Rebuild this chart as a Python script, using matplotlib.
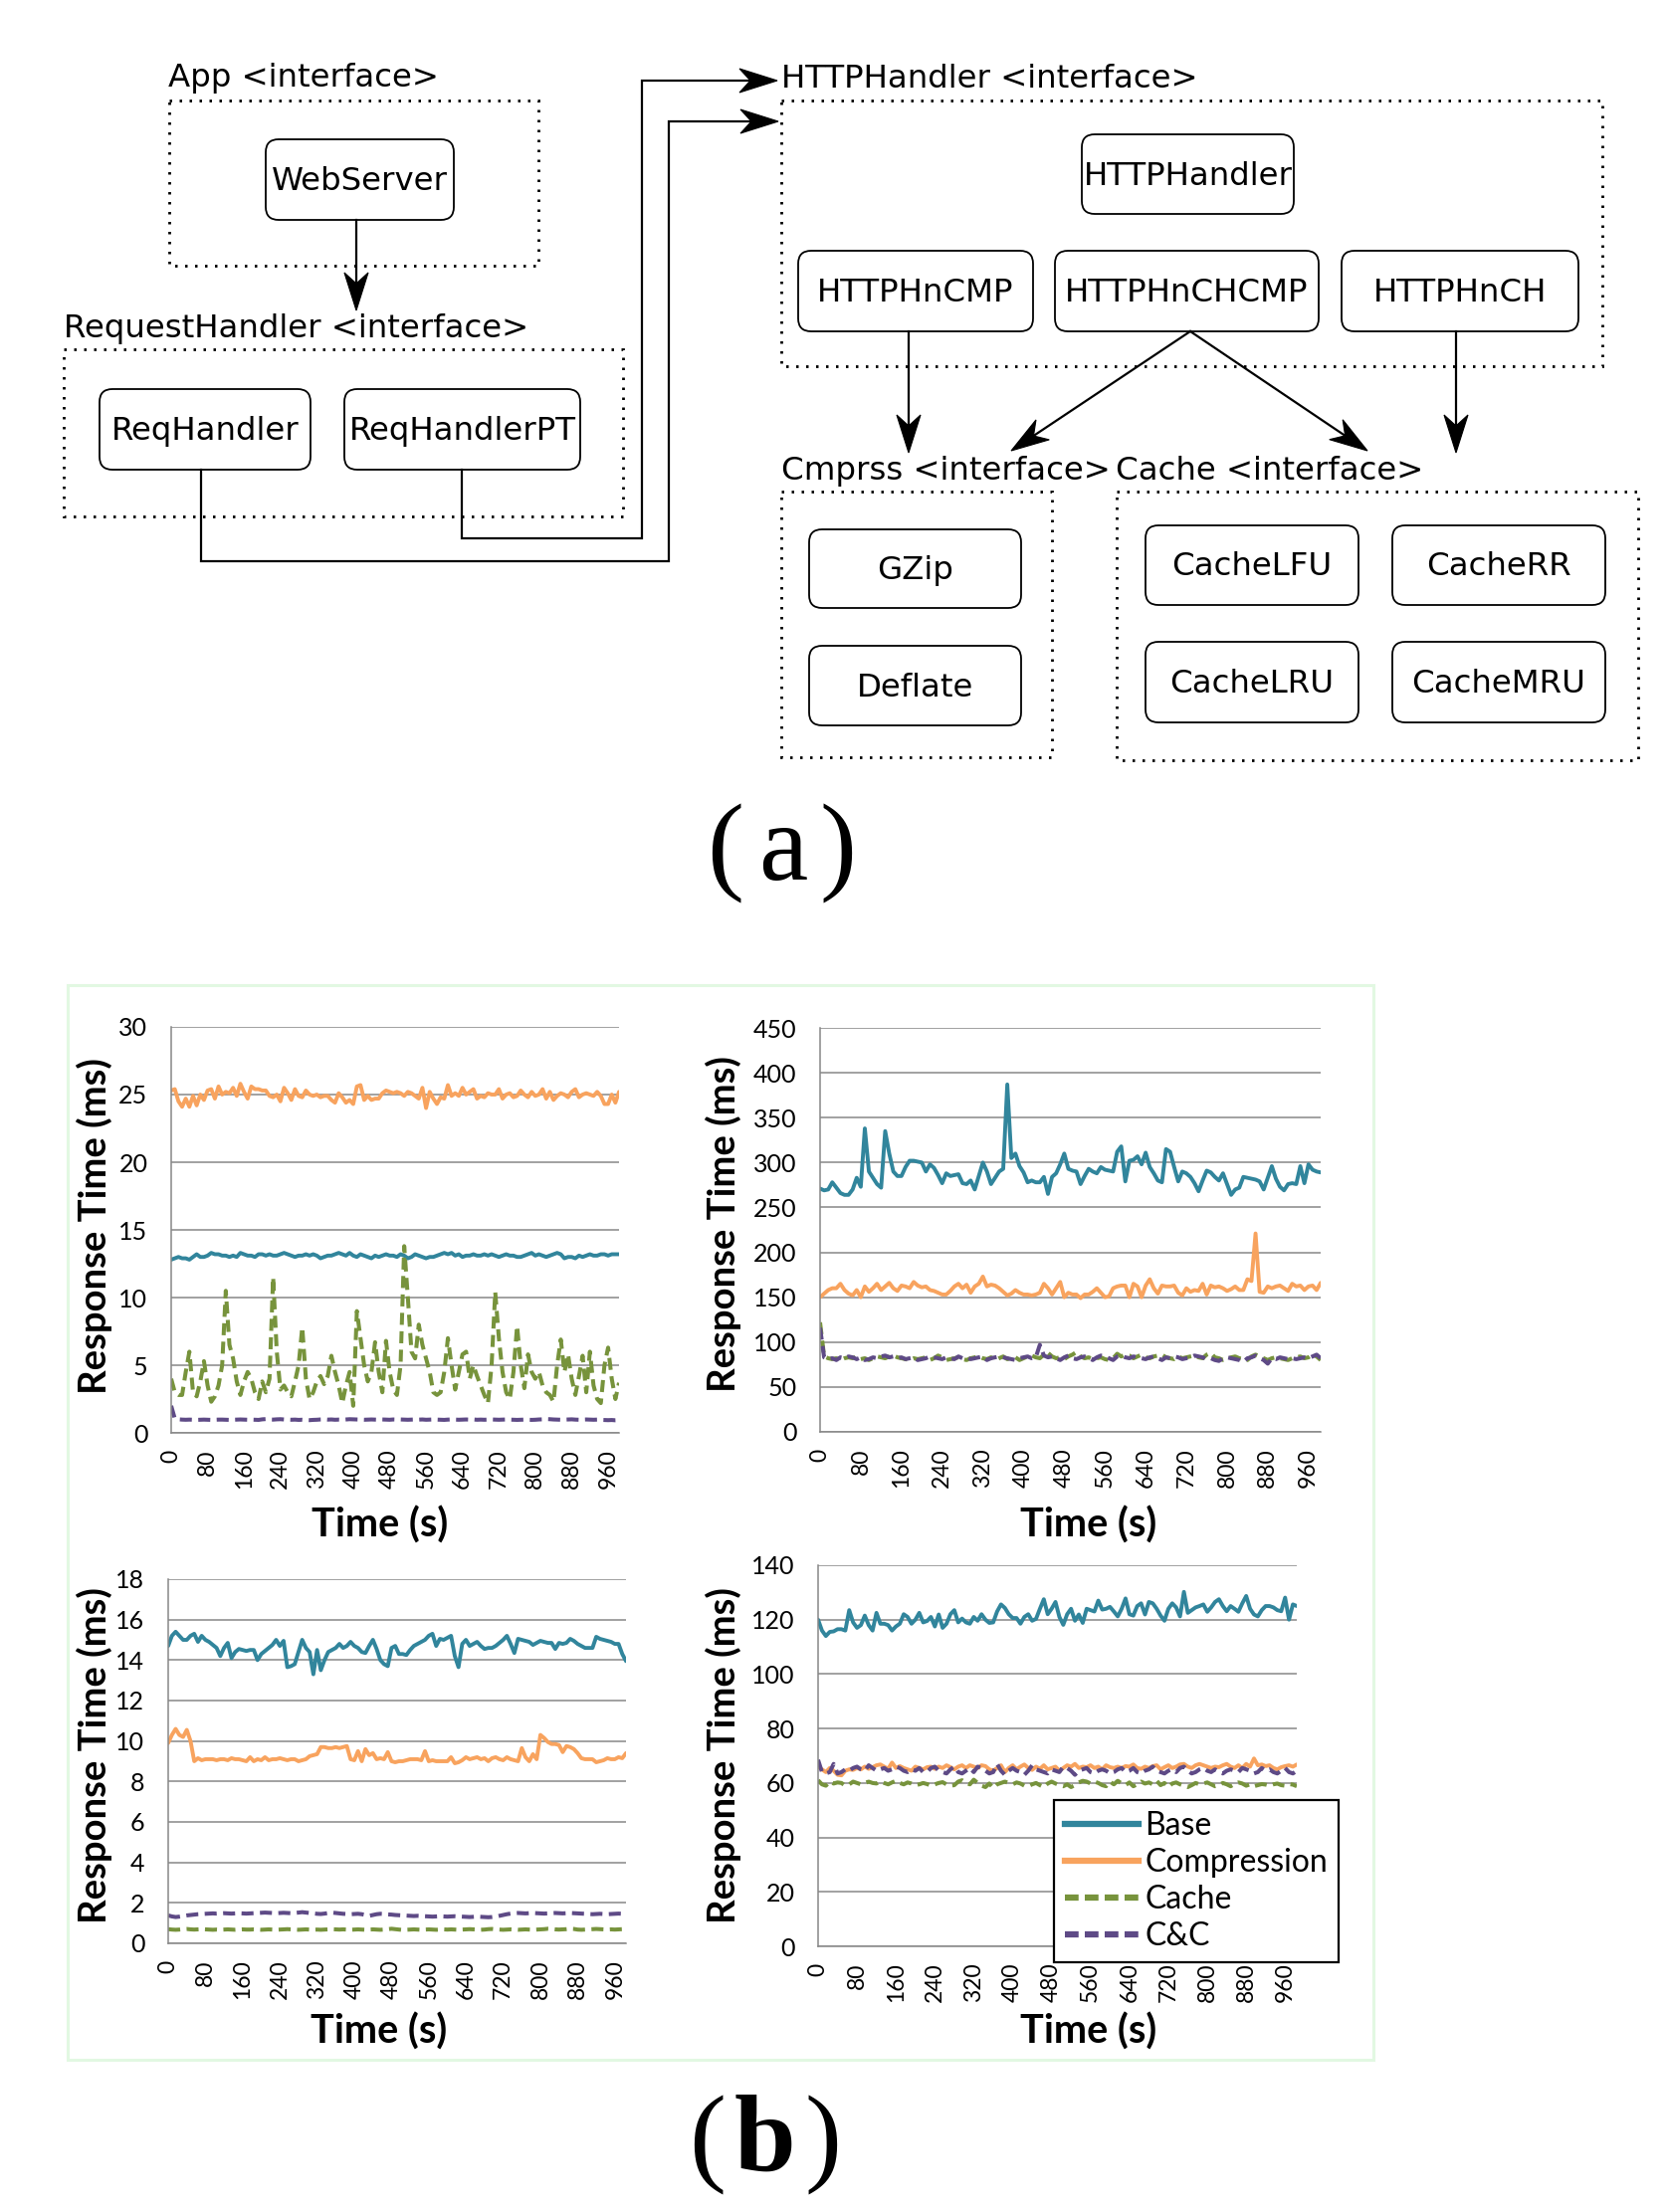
import numpy as np
import matplotlib
matplotlib.use("Agg")
import matplotlib.pyplot as plt
from matplotlib.patches import FancyBboxPatch, Rectangle, Polygon
from matplotlib.lines import Line2D

W, H = 1677, 2223

# ---------------- data (response time in ms, one sample every 8 s) ----------------
series_names = ["Base", "Compression", "Cache", "C&C"]
tick_times = list(range(0, 961, 80))
step = 8

# top-left chart
tl_base = [12.8,12.9,13.0,12.9,12.9,12.8,13.0,13.2,13.0,13.0,
           13.1,13.3,13.2,13.2,13.1,13.1,13.0,13.1,13.0,13.3,
           13.2,13.1,13.1,13.0,13.2,13.2,13.1,13.2,13.1,13.1,
           13.2,13.3,13.2,13.1,13.0,13.1,13.1,13.2,13.1,13.2,
           13.1,12.9,13.0,13.1,13.1,13.2,13.3,13.2,13.1,13.3,
           13.1,13.0,13.2,13.1,13.0,12.9,13.1,13.0,13.1,13.2,
           13.1,13.1,13.0,13.2,13.1,12.9,13.0,13.2,13.1,13.0,
           12.9,13.0,13.0,13.1,13.2,13.3,13.2,13.3,13.1,13.2,
           13.0,13.1,13.1,13.2,13.1,13.1,13.2,13.1,13.2,13.1,
           13.0,13.1,13.2,13.1,13.1,13.0,13.0,13.1,13.2,13.3,
           13.1,13.2,13.1,13.0,13.1,13.2,13.3,13.2,12.9,13.0,
           13.0,12.9,13.1,13.0,13.1,13.2,13.1,13.1,13.2,13.2,
           13.1,13.2,13.2,13.2]
tl_comp = [25.3,25.4,24.5,24.1,24.7,24.1,24.9,24.2,25.0,24.6,
           25.3,25.4,24.7,25.6,25.0,25.2,25.1,25.5,24.9,25.8,
           25.2,24.7,25.6,25.4,25.4,25.3,25.3,24.9,24.8,25.0,
           24.5,25.5,25.1,24.6,25.4,24.9,24.8,25.3,25.0,24.9,
           25.0,24.8,24.9,24.9,24.6,24.4,25.1,24.8,24.4,24.6,
           24.3,25.6,25.7,24.6,24.9,24.6,24.7,24.7,25.1,25.3,
           25.2,25.1,25.2,25.1,24.9,25.2,25.1,24.9,24.7,25.5,
           24.0,25.2,24.7,24.3,24.8,24.7,25.7,24.9,25.1,24.9,
           25.5,25.0,25.2,25.4,24.7,24.9,24.8,25.1,25.0,25.0,
           25.4,24.7,25.0,25.1,24.8,24.9,25.3,25.0,24.8,25.2,
           24.9,25.0,25.4,24.7,25.2,24.6,24.9,25.1,25.0,24.8,
           25.2,25.4,24.8,25.0,25.1,25.0,24.9,25.2,24.9,24.3,
           24.3,25.0,24.4,25.2]
tl_cache = [4.0,3.0,2.8,2.8,4.5,6.0,3.0,2.7,3.8,5.3,
            3.5,2.3,2.7,3.5,5.0,10.5,6.5,5.5,3.8,2.8,
            3.8,4.5,4.0,3.0,2.5,3.8,3.0,4.0,11.5,6.0,
            3.2,3.5,3.0,2.7,3.8,5.0,7.8,4.0,2.5,3.0,
            3.8,4.2,3.6,4.2,5.7,4.5,3.5,2.2,3.5,4.5,
            2.0,9.0,7.0,5.0,3.8,4.5,6.7,4.5,3.0,6.8,
            4.5,3.2,2.8,5.0,13.8,10.0,6.0,5.5,8.0,6.5,
            5.5,4.5,3.0,2.8,3.0,4.5,7.0,5.0,3.2,4.5,
            5.8,6.0,4.0,5.0,4.2,3.5,2.8,2.2,5.0,10.4,
            7.0,4.5,3.0,2.5,4.5,7.9,5.0,3.3,5.8,4.5,
            4.0,4.5,3.5,3.0,2.8,2.3,5.0,6.9,4.5,5.8,
            4.0,2.8,4.2,5.7,3.0,6.0,3.5,2.5,2.2,5.0,
            6.3,4.0,2.5,3.7]
tl_cc = [2.0,1.05,1.0,0.98,0.97,0.98,0.97,0.96,0.97,0.98,
         0.97,0.96,0.97,0.98,0.98,0.97,0.96,0.97,0.98,0.99,
         0.98,0.97,0.98,0.97,0.96,1.0,1.02,0.99,0.98,1.0,
         1.01,0.99,0.98,0.97,0.98,0.96,0.97,0.95,0.94,0.96,
         0.97,0.99,1.0,0.98,0.99,0.97,0.98,0.97,0.99,1.01,
         1.0,0.99,0.98,0.97,0.98,0.99,0.98,0.97,0.99,0.98,
         0.97,0.99,0.98,0.99,0.98,0.97,0.98,0.99,0.98,0.99,
         0.97,0.98,0.99,0.98,0.97,0.96,0.98,0.99,0.98,0.97,
         0.98,0.99,0.98,0.99,0.97,0.98,0.97,0.98,0.99,0.98,
         0.97,0.98,0.99,0.98,0.97,0.96,0.97,0.98,0.97,0.96,
         0.97,0.99,1.0,1.02,1.01,0.99,0.98,0.97,0.98,0.99,
         1.0,0.98,0.97,0.98,0.99,0.98,0.97,0.98,0.96,0.95,
         0.94,0.95,0.93,0.94]

# top-right chart
tr_base = [271,269,270,278,272,266,264,264,270,283,
           273,338,290,283,276,272,335,310,290,285,
           285,295,302,302,301,300,290,298,294,286,
           277,288,285,286,287,277,276,280,270,285,
           300,290,276,283,290,293,387,305,310,296,
           289,278,280,278,278,284,265,284,288,298,
           310,293,291,290,276,285,293,290,288,295,
           292,291,290,312,318,279,302,303,307,298,
           311,295,288,280,278,315,312,295,279,290,
           288,284,277,268,280,291,289,284,280,288,
           276,264,270,272,284,283,282,281,279,270,
           283,296,282,273,269,276,277,276,296,277,
           298,292,290,289]
tr_comp = [150,154,158,160,160,165,158,154,152,158,
           150,162,156,160,165,158,162,166,160,157,
           163,162,160,167,163,161,162,158,157,155,
           153,153,157,162,165,160,164,155,162,165,
           173,162,164,163,160,156,152,154,158,155,
           153,153,152,153,155,165,160,153,160,167,
           150,155,153,153,149,153,153,156,160,155,
           150,151,160,162,163,163,150,165,162,150,
           163,170,160,154,163,162,162,163,155,152,
           160,156,158,157,165,153,163,161,162,160,
           157,159,162,158,158,170,168,221,156,155,
           162,160,162,163,160,157,165,162,163,158,
           162,163,158,166]
tr_cache = [122,84,82,81,82,80,82,83,82,84,
            81,82,80,82,84,83,82,84,85,83,
            82,81,80,82,81,82,83,80,82,85,
            83,80,81,82,83,81,80,82,83,84,
            82,81,83,80,82,84,81,82,83,80,
            82,84,85,83,82,86,88,84,82,83,
            81,84,86,89,84,82,83,81,82,83,
            81,80,82,87,84,86,85,82,84,86,
            83,82,84,85,86,83,82,81,84,82,
            83,84,85,83,82,86,88,83,82,80,
            81,83,84,82,81,80,84,86,84,82,
            80,82,83,82,81,80,82,83,84,82,
            83,86,84,80]
tr_cc = [116,83,81,82,80,83,82,84,83,81,
         83,80,81,83,82,84,85,83,84,82,
         83,81,82,83,80,81,82,84,83,82,
         81,83,82,81,84,82,83,81,82,83,
         84,80,82,83,84,83,82,81,80,82,
         83,84,82,83,97,85,83,84,82,80,
         83,85,82,81,83,84,82,80,83,85,
         84,82,80,84,85,83,82,84,83,82,
         81,83,84,82,80,83,82,84,83,81,
         82,83,85,84,83,81,82,80,79,82,
         83,82,81,80,78,82,83,85,82,80,
         76,82,81,83,82,81,82,81,82,83,
         82,84,86,82]

# bottom-left chart
bl_base = [14.7,15.2,15.4,15.2,15.0,15.0,15.2,15.3,14.9,15.2,
           15.0,14.9,14.75,14.6,14.2,14.6,14.85,14.1,14.4,14.55,
           14.5,14.45,14.5,14.5,14.0,14.3,14.45,14.6,14.75,15.0,
           14.7,14.95,13.65,13.7,13.8,14.4,15.0,14.6,14.4,13.3,
           14.5,13.5,14.0,14.4,14.5,14.6,14.8,14.6,14.7,14.9,
           14.7,14.6,14.4,14.35,14.7,15.0,14.55,14.0,13.8,13.7,
           14.6,14.7,14.3,14.3,14.25,14.5,14.7,14.8,14.9,15.0,
           15.2,15.3,14.7,15.05,15.0,15.1,15.2,14.2,13.65,14.8,
           15.0,14.7,14.8,14.9,14.7,14.55,14.6,14.6,14.7,14.85,
           15.0,15.2,14.8,14.35,15.05,15.0,14.95,14.9,14.75,14.85,
           14.95,14.9,14.85,14.85,14.55,14.85,14.8,14.85,15.05,14.95,
           14.8,14.7,14.6,14.6,14.6,15.15,15.05,15.0,14.95,14.9,
           14.8,14.8,14.3,13.95]
bl_comp = [9.9,10.3,10.6,10.3,10.2,10.55,10.0,9.0,9.15,9.05,
           9.1,9.1,9.1,9.05,9.1,9.1,9.05,9.15,9.1,9.1,
           9.05,9.0,9.2,9.0,9.1,9.05,9.2,9.05,9.1,9.1,
           9.15,9.1,9.05,9.1,9.1,9.0,9.05,9.1,9.25,9.3,
           9.35,9.7,9.7,9.65,9.65,9.7,9.65,9.7,9.75,9.1,
           9.05,9.5,9.0,9.6,9.3,9.4,9.1,9.15,9.1,9.45,
           9.0,8.95,9.0,9.0,9.05,9.1,9.1,9.1,9.05,9.5,
           9.0,9.05,9.0,9.0,9.0,9.0,9.2,8.9,8.95,9.05,
           9.2,9.1,9.15,9.2,9.1,9.15,9.0,9.15,9.2,9.1,
           9.05,9.2,9.1,9.05,9.0,9.65,9.2,9.0,9.35,9.1,
           10.3,10.15,9.95,9.85,9.85,9.8,9.45,9.75,9.7,9.6,
           9.4,9.15,9.1,9.1,9.1,8.95,9.0,9.05,9.15,9.1,
           9.1,9.2,9.15,9.4]
bl_cache = [0.70,0.68,0.67,0.68,0.70,0.71,0.69,0.68,0.69,0.70,
            0.69,0.68,0.67,0.68,0.67,0.68,0.69,0.68,0.67,0.68,
            0.69,0.68,0.68,0.69,0.68,0.67,0.68,0.69,0.68,0.67,
            0.68,0.69,0.70,0.69,0.68,0.67,0.68,0.69,0.68,0.67,
            0.68,0.67,0.68,0.69,0.70,0.69,0.68,0.69,0.68,0.67,
            0.68,0.69,0.68,0.67,0.68,0.69,0.68,0.67,0.68,0.70,
            0.72,0.70,0.68,0.66,0.67,0.68,0.69,0.68,0.67,0.68,
            0.69,0.68,0.67,0.68,0.69,0.68,0.69,0.68,0.67,0.68,
            0.69,0.70,0.69,0.68,0.67,0.68,0.70,0.71,0.69,0.68,
            0.67,0.68,0.69,0.68,0.67,0.68,0.69,0.68,0.67,0.68,
            0.69,0.70,0.72,0.71,0.69,0.68,0.69,0.70,0.72,0.71,
            0.68,0.67,0.68,0.69,0.70,0.71,0.70,0.69,0.68,0.69,
            0.68,0.69,0.70,0.69]
bl_cc = [1.38,1.33,1.30,1.32,1.35,1.38,1.40,1.42,1.44,1.45,
         1.46,1.47,1.48,1.47,1.48,1.49,1.48,1.47,1.48,1.49,
         1.48,1.47,1.48,1.49,1.50,1.51,1.52,1.51,1.50,1.49,
         1.50,1.51,1.50,1.49,1.50,1.52,1.54,1.52,1.50,1.48,
         1.46,1.45,1.47,1.50,1.52,1.50,1.48,1.46,1.45,1.44,
         1.45,1.46,1.44,1.40,1.36,1.40,1.44,1.46,1.45,1.43,
         1.42,1.40,1.39,1.38,1.37,1.36,1.35,1.36,1.35,1.34,
         1.33,1.32,1.33,1.34,1.33,1.32,1.33,1.34,1.33,1.32,
         1.31,1.30,1.31,1.32,1.31,1.30,1.29,1.30,1.32,1.36,
         1.40,1.44,1.47,1.49,1.50,1.49,1.48,1.49,1.50,1.49,
         1.48,1.47,1.48,1.49,1.50,1.49,1.48,1.49,1.50,1.49,
         1.48,1.47,1.46,1.45,1.44,1.45,1.46,1.45,1.44,1.45,
         1.46,1.47,1.46,1.45]

# bottom-right chart
br_base = [120,116,114,115.5,115.7,116.5,116.5,116,123.5,119,
           117,118,121.5,118,116,122.5,118.5,118.5,118,116,
           117.5,118.5,122,121,118.5,120,122.5,119,119.5,121,
           117.5,121.9,117,118.5,122,123.5,119,120.4,119,118.5,
           121,119.6,122,120,118.8,119,123,125.6,124.3,122,
           120.6,120.6,118.5,121,122,119.6,120.3,124,127.5,122,
           124,126.5,121,118.1,122,124,119.6,121.9,118.8,124,
           123.5,123,127,123.7,124,124.7,123,121.2,124,127.8,
           122,121.5,125,126,121.9,126.5,126,124,121.5,119.6,
           124,126,124.5,121.2,130.2,122.5,123.5,124.5,125,125.6,
           122.9,124.5,126.5,127.5,125,123.1,125,124,122.9,126,
           128.7,124,121.9,121.2,123.5,125,125,124.5,123.5,123.1,
           128.1,120,125.6,125]
br_comp = [66.0,65.0,64.0,65.5,64.5,63.0,62.8,64.5,65.0,64.8,
           65.5,65.0,66.0,65.2,65.8,66.5,66.8,66.0,65.2,67.5,
           65.5,66.2,65.5,65.0,64.5,66.0,65.5,65.0,65.8,66.0,
           65.2,66.0,65.5,66.5,65.8,65.0,66.0,66.5,65.5,66.5,
           66.0,65.5,66.5,66.2,65.0,64.5,65.5,66.5,64.0,65.5,
           66.5,65.0,66.0,66.8,65.5,64.8,66.0,65.2,66.5,65.0,
           65.5,66.0,64.5,65.5,66.5,66.0,67.0,65.5,66.0,65.8,
           66.5,65.5,66.0,65.0,66.5,65.8,65.5,66.0,65.5,66.2,
           66.0,66.8,65.5,65.2,66.0,65.5,66.2,66.5,65.0,65.8,
           66.5,65.5,66.0,66.8,67.0,66.0,65.5,66.5,67.0,66.5,
           66.0,65.5,66.0,65.8,66.5,67.0,66.0,65.5,66.5,65.5,
           67.0,66.0,69.0,66.5,66.8,66.2,66.5,65.5,65.0,65.8,
           66.2,66.5,66.0,66.8]
br_cache = [61.0,59.5,59.0,60.5,59.8,60.2,60.0,59.0,59.5,60.5,
            60.0,59.5,60.0,60.5,60.0,59.8,60.6,60.0,59.5,60.2,
            60.8,60.0,59.5,60.2,59.8,59.2,59.5,60.0,59.6,59.0,
            59.5,60.0,60.3,59.5,59.0,59.2,60.5,61.0,60.0,59.5,
            61.2,60.0,59.0,58.5,59.8,58.2,59.5,60.0,60.5,60.0,
            59.5,60.2,59.8,59.0,58.8,59.5,60.0,59.2,58.5,59.8,
            60.5,59.8,59.2,58.8,59.5,58.5,59.2,60.2,60.8,60.5,
            59.8,60.5,60.0,59.2,58.8,60.5,59.5,60.8,59.8,59.2,
            60.2,58.8,59.5,60.5,59.8,60.2,59.5,60.8,59.2,60.0,
            58.5,59.8,60.2,59.5,59.0,58.5,59.2,60.0,59.5,59.8,
            60.2,59.5,58.8,59.2,60.0,59.5,58.8,59.6,60.2,59.8,
            59.0,59.5,58.8,59.2,59.6,59.4,59.0,59.5,59.8,59.2,
            59.0,59.6,59.4,58.8]
br_cc = [68.5,64.0,63.5,64.0,67.0,63.5,64.0,65.0,64.5,65.5,
         66.0,65.0,64.5,66.5,65.5,64.5,65.0,65.5,64.5,65.0,
         66.0,65.5,64.5,64.0,65.0,64.5,65.5,64.0,64.0,65.5,
         66.0,64.5,64.0,63.5,65.0,66.0,64.0,63.5,64.5,65.5,
         64.0,66.0,65.5,64.5,63.5,64.0,67.0,64.5,63.0,64.5,
         65.5,64.5,64.0,63.0,64.5,66.5,65.0,64.5,64.0,63.5,
         65.0,64.5,64.0,66.0,65.5,64.5,63.0,64.5,65.0,65.5,
         64.0,63.5,64.5,65.0,64.5,63.5,64.0,65.0,65.5,64.0,
         64.5,65.5,64.0,63.5,64.5,65.0,66.0,64.5,64.0,63.5,
         64.5,65.0,64.0,65.5,66.0,64.5,63.5,64.0,65.0,65.5,
         64.5,64.0,65.0,64.0,63.5,64.5,65.0,64.5,64.0,65.5,
         65.0,64.5,63.5,64.0,65.5,64.5,65.0,64.0,63.5,64.5,
         65.5,64.0,63.5,64.5]

# ---------------- styling ----------------
colors = ["#31859C", "#F8A35E", "#77933C", "#5E4A86"]
dashed = [False, False, True, True]
grid_col = "#878787"

fig = plt.figure(figsize=(W / 100, H / 100), dpi=100)
fig.patch.set_facecolor("white")

# overlay axes in pixel units (y down) for the diagram, frame and captions
ov = fig.add_axes([0, 0, 1, 1])
ov.set_xlim(0, W)
ov.set_ylim(H, 0)
ov.axis("off")

DIAG_FONT = "DejaVu Sans"
FS = 23.3


def rbox(x0, y0, x1, y1, label):
    ov.add_patch(FancyBboxPatch((x0, y0), x1 - x0, y1 - y0,
                                boxstyle="round,pad=0,rounding_size=13",
                                fc="white", ec="black", lw=1.3))
    ov.text((x0 + x1) / 2, (y0 + y1) / 2 + 2, label, ha="center", va="center",
            fontsize=FS, family=DIAG_FONT)


def dotbox(x0, y0, x1, y1):
    ov.add_patch(Rectangle((x0, y0), x1 - x0, y1 - y0, fill=False, ec="black",
                           lw=2.0, linestyle=(0, (0.9, 2.7))))


def arrow(points, length=38, width=24, notch=11):
    pts = np.array(points, dtype=float)
    tip = pts[-1]
    d = tip - pts[-2]
    d = d / np.hypot(*d)
    n = np.array([-d[1], d[0]])
    back = tip - d * length
    inner = tip - d * (length - notch)
    line = np.vstack([pts[:-1], inner])
    ov.plot(line[:, 0], line[:, 1], color="black", lw=1.6, solid_joinstyle="miter")
    ov.add_patch(Polygon([tip, back + n * width / 2, inner, back - n * width / 2],
                         closed=True, fc="black", ec="black", lw=0.8))


# labels of the interface groups
ov.text(169, 87, "App <interface>", fontsize=FS, family=DIAG_FONT, va="baseline")
ov.text(64, 339, "RequestHandler <interface>", fontsize=FS, family=DIAG_FONT, va="baseline")
ov.text(785, 88, "HTTPHandler <interface>", fontsize=FS, family=DIAG_FONT, va="baseline")
ov.text(785, 482, "Cmprss <interface>", fontsize=FS, family=DIAG_FONT, va="baseline")
ov.text(1121, 482, "Cache <interface>", fontsize=FS, family=DIAG_FONT, va="baseline")

dotbox(170, 101, 541, 267)
dotbox(64, 351, 626, 519)
dotbox(785, 101, 1610, 368)
dotbox(785, 494, 1057, 761)
dotbox(1122, 494, 1646, 764)

rbox(267, 140, 456, 221, "WebServer")
rbox(100, 391, 312, 472, "ReqHandler")
rbox(346, 391, 583, 472, "ReqHandlerPT")
rbox(1087, 135, 1300, 215, "HTTPHandler")
rbox(802, 252, 1038, 333, "HTTPHnCMP")
rbox(1060, 252, 1325, 333, "HTTPHnCHCMP")
rbox(1348, 252, 1586, 333, "HTTPHnCH")
rbox(813, 532, 1026, 611, "GZip")
rbox(813, 649, 1026, 729, "Deflate")
rbox(1151, 528, 1365, 608, "CacheLFU")
rbox(1399, 528, 1613, 608, "CacheRR")
rbox(1151, 645, 1365, 726, "CacheLRU")
rbox(1399, 645, 1613, 726, "CacheMRU")

arrow([(358, 221), (358, 312)])
arrow([(202, 472), (202, 564), (672, 564), (672, 122), (782, 122)])
arrow([(464, 472), (464, 541), (645, 541), (645, 81), (781, 81)])
arrow([(913, 333), (913, 455)])
arrow([(1196, 333), (1016, 453)])
arrow([(1196, 333), (1374, 453)])
arrow([(1463, 333), (1463, 455)])

# captions
SERIF = "Liberation Serif"
for ch, x in zip("(a)", [729, 787, 842]):
    ov.text(x, 884, ch, ha="center", va="baseline", fontsize=80, family=SERIF)
for ch, x, wgt in zip("(b)", [711, 768, 827], ["normal", "bold", "normal"]):
    ov.text(x, 2182, ch, ha="center", va="baseline", fontsize=80, family=SERIF,
            fontweight=wgt)

# light green frame around the charts
ov.add_patch(Rectangle((68, 990), 1380 - 68, 2070 - 990, fill=False,
                       ec="#E2F8E2", lw=2.2))


# ---------------- charts ----------------
def px_axes(x0, y0, x1, y1):
    return [x0 / W, 1 - y1 / H, (x1 - x0) / W, (y1 - y0) / H]


CHART_FONT = "Lato"
charts = [
    ((172, 1032, 622, 1440), [tl_base, tl_comp, tl_cache, tl_cc], 30, 5,
     (95, 1232), (382, 1533)),
    ((824, 1033, 1327, 1439), [tr_base, tr_comp, tr_cache, tr_cc], 450, 50,
     (727, 1230), (1094, 1533)),
    ((169, 1587, 629, 1953), [bl_base, bl_comp, bl_cache, bl_cc], 18, 2,
     (95, 1764), (381, 2042)),
    ((822, 1573, 1303, 1956), [br_base, br_comp, br_cache, br_cc], 140, 20,
     (727, 1764), (1094, 2042)),
]

for box, data, ymax, ystep, ylab_xy, xlab_xy in charts:
    ax = fig.add_axes(px_axes(*box))
    ax.set_facecolor("none")
    for vals, col, dsh, name in zip(data, colors, dashed, series_names):
        t = np.arange(len(vals)) * step
        if dsh:
            ax.plot(t, vals, color=col, lw=2.9, dashes=(3, 1.6),
                    dash_capstyle="butt", label=name)
        else:
            ax.plot(t, vals, color=col, lw=2.8, solid_joinstyle="round",
                    solid_capstyle="round", label=name)
    ax.set_xlim(0, (len(data[0]) - 1) * step)
    ax.set_ylim(0, ymax)
    ax.set_yticks(np.arange(0, ymax + ystep / 2, ystep))
    ax.set_xticks(tick_times)
    ax.set_xticklabels([str(v) for v in tick_times], rotation=90)
    ax.yaxis.grid(True, color=grid_col, lw=1.1)
    ax.set_axisbelow(True)
    for s in ["top", "right"]:
        ax.spines[s].set_visible(False)
    for s in ["left", "bottom"]:
        ax.spines[s].set_color(grid_col)
        ax.spines[s].set_linewidth(1.1)
    ax.tick_params(axis="both", length=0, colors="black")
    ax.tick_params(axis="y", pad=17, labelsize=18)
    ax.tick_params(axis="x", pad=12, labelsize=16.5)
    for lab in ax.get_xticklabels() + ax.get_yticklabels():
        lab.set_family(CHART_FONT)
    ov.text(ylab_xy[0], ylab_xy[1], "Response Time (ms)", rotation=90, ha="center",
            va="center", fontsize=27.5, fontweight="bold", family=CHART_FONT)
    ov.text(xlab_xy[0], xlab_xy[1], "Time (s)", ha="center", va="center",
            fontsize=28.5, fontweight="bold", family=CHART_FONT)

leg_handles = [Line2D([0], [0], color=c, lw=4.5, dashes=(2.2, 1.0) if d else (None, None))
               for c, d in zip(colors, dashed)]
leg = fig.legend(leg_handles, series_names, loc="upper left",
                 bbox_to_anchor=(1059 / W, 1 - 1809 / H), frameon=True, fancybox=False,
                 edgecolor="black", framealpha=1, borderaxespad=0, borderpad=0.35,
                 handlelength=2.3, handletextpad=0.2, labelspacing=0.22,
                 prop={"family": CHART_FONT, "size": 23})
leg.get_frame().set_linewidth(1.6)

fig.savefig("out.png", dpi=100)
